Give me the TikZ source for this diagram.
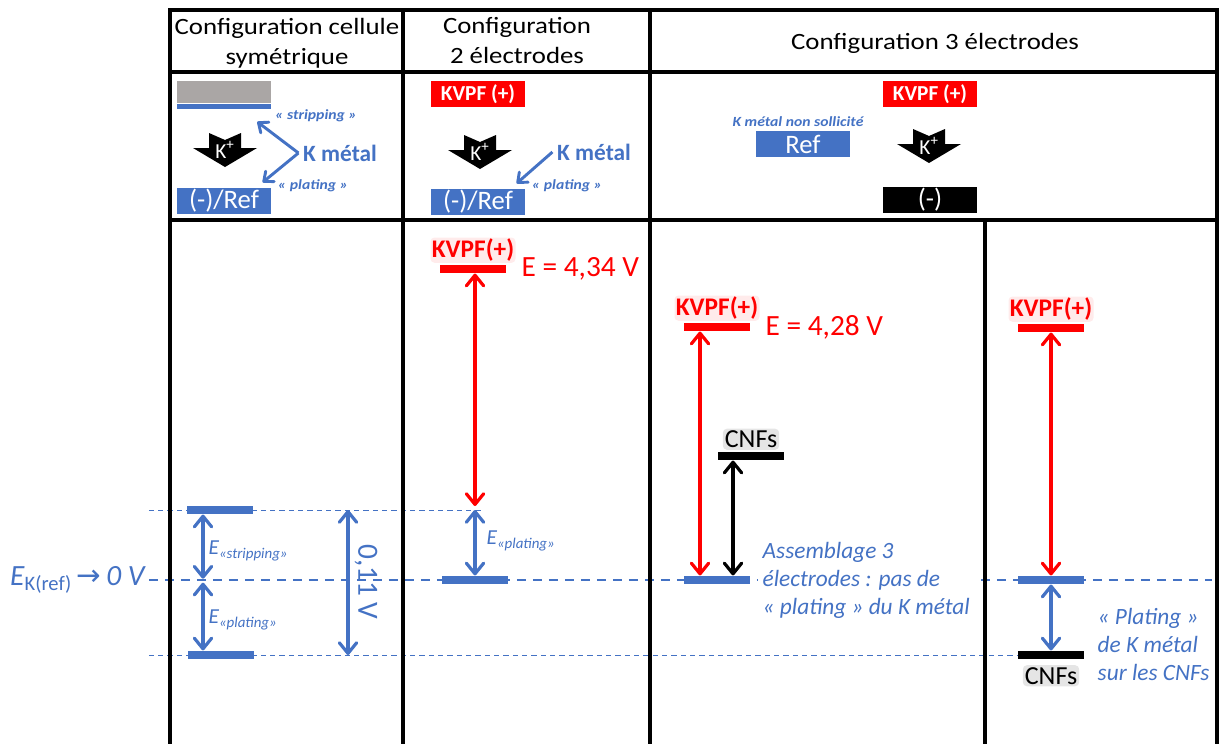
\documentclass[tikz,border=0pt]{standalone}
\usepackage{fontspec}
\setmainfont{Carlito}
\newfontfamily\symfont{DejaVu Sans}
\newfontfamily\hdfont[FakeStretch=1.15]{Carlito}
\newfontfamily\tagfont[FakeStretch=1.12]{Carlito}
\usetikzlibrary{positioning, arrows.meta, backgrounds}
\definecolor{kblue}{HTML}{4472C4}
\definecolor{kred}{HTML}{FF0000}
\definecolor{kgray}{HTML}{AAA6A5}

\begin{document}
\begin{tikzpicture}[
        x=0.75pt, y=-0.75pt,
        grid/.style={line width=2.6pt, black, line cap=rect},
        head/.style={font=\hdfont\fontsize{17.5}{22.5}\selectfont, align=center},
        elec/.style={rectangle, minimum width=71pt, minimum height=20pt, inner sep=0pt, text=white, font=\fontsize{20}{22}\selectfont},
        posbox/.style={elec, fill=kred, font=\bfseries\fontsize{16}{19}\selectfont},
        foil/.style={rectangle, fill=kgray, minimum width=70.5pt, minimum height=17pt, inner sep=0pt},
        stripe/.style={rectangle, fill=kblue, minimum width=70.5pt, minimum height=3.5pt, inner sep=0pt},
        km/.style={text=kblue, font=\bfseries\fontsize{17.5}{20}\selectfont},
        tag/.style={text=kblue, font=\tagfont\bfseries\itshape\fontsize{10.5}{12}\selectfont},
        bar/.style={rectangle, inner sep=0pt, minimum width=49.5pt, minimum height=6.5pt},
        level/.style={text=kred, font=\bfseries\fontsize{19}{21}\selectfont, inner sep=1pt, fill=kred!8, rounded corners=3pt},
        volt/.style={text=kred, font=\fontsize{22}{24}\selectfont},
        cnf/.style={text=black, font=\fontsize{19.5}{22}\selectfont, inner sep=1.5pt, fill=black!10, rounded corners=3pt},
        elab/.style={text=kblue, font=\itshape\fontsize{16}{18}\selectfont, inner sep=1pt},
        note/.style={text=kblue, font=\itshape\fontsize{17.5}{21}\selectfont, align=left},
        zero/.style={kblue, line width=1.1pt, dash pattern=on 7pt off 5pt},
        guide/.style={kblue, line width=0.6pt, dash pattern=on 4pt off 3pt},
        dbl/.style={{Straight Barb[length=8pt,width=13pt,round]}-{Straight Barb[length=8pt,width=13pt,round]}, line width=2.4pt},
        metarrow/.style={-{Straight Barb[length=6pt,width=10pt,round]}, kblue, line width=2.2pt},
        kion/.pic={
            \fill[black] (-16,-17) -- (0,-10) -- (16,-17) -- (16,-2) -- (32,-2) -- (0,17) -- (-32,-2) -- (-16,-2) -- cycle;
            \node[text=white, inner sep=0pt, font=\fontsize{16}{16}\selectfont] at (0,0) {K\textsuperscript{+}};
        }
    ]
    \useasboundingbox (0,0) rectangle (1219,743);

    % Table frame
    \draw[grid] (170,10) -- (1217,10);
    \draw[grid] (170,72) -- (1217,72);
    \draw[grid] (170,220) -- (1217,220);
    \foreach \x in {170,403,650,1217}
        \draw[grid] (\x,10) -- (\x,743);
    \draw[grid] (985,220) -- (985,743);

    % Column headers
    \node[head] (h1) at (287,43) {Configuration cellule\\symétrique};
    \node[head] (h2) at (517,41) {Configuration\\2 électrodes};
    \node[head] (h3) at (935,43) {Configuration 3 électrodes};

    % Symmetric cell
    \node[foil] (foil) at (224,92) {};
    \node[stripe, below=0pt of foil] (strip) {};
    \pic at (225,150) {kion};
    \node[elec, fill=kblue] (ne1) at (224,201) {(-)/Ref};
    \node[km] (km1) at (340,153) {K métal};
    \node[tag] (st1) at (316,116) {« stripping »};
    \node[tag] (pl1) at (313,186) {« plating »};
    \draw[metarrow] (km1.west) -- ([shift={(-14,13)}]strip.south east);
    \draw[metarrow] (km1.west) -- ([shift={(-9,-5)}]ne1.north east);

    % 2 electrodes
    \node[posbox] (kv2) at (478,94) {KVPF (+)};
    \pic at (480,152) {kion};
    \node[elec, fill=kblue] (ne2) at (478,202) {(-)/Ref};
    \node[km] (km2) at (594,152) {K métal};
    \node[tag] (pl2t) at (567,186) {« plating »};
    \draw[metarrow] (km2.west) -- ([shift={(-9,-5)}]ne2.north east);

    % 3 electrodes
    \node[tag] (ns) at (798,122) {K métal non sollicité};
    \node[elec, fill=kblue, minimum height=19.5pt] (ref3) at (803,144) {Ref};
    \node[posbox] (kv3) at (930,94) {KVPF (+)};
    \pic at (929,146) {kion};
    \node[elec, fill=black] (ne3) at (930,200) {(-)};

    % Reference potential
    \node[text=kblue, fill=white, inner sep=2pt, font=\fontsize{22}{24}\selectfont] (ek) at (78,580)
        {\textit{E}\textsubscript{K(ref)}\,{\symfont →}\,\textit{0 V}};

    % Levels, symmetric cell
    \node[bar, fill=kblue] (b1u) at (220,510) {};
    \node[bar, fill=kblue] (b1l) at (221,655) {};
    \coordinate (z1) at (203,580);
    \draw[dbl, kblue, shorten >=1pt] (b1u.south -| z1) -- (z1);
    \draw[dbl, kblue, shorten <=2pt] (z1) -- (b1l.north -| z1);
    \node[elab, anchor=west] (es1) at (207,551) {E\textsubscript{«stripping»}};
    \node[elab, anchor=west] (ep1) at (207,620) {E\textsubscript{«plating»}};
    \coordinate (g1) at (348,580);
    \draw[dbl, kblue] (b1u -| g1) -- (b1l -| g1);
    \node[text=kblue, rotate=-90, font=\fontsize{22}{24}\selectfont] (d1) at (366,582) {0,11 V};

    % Levels, 2 electrodes
    \node[bar, fill=kred] (b2k) at (473,269) {};
    \node[level, above=1pt of b2k] (kvl2) {KVPF(+)};
    \node[volt, right=8pt of b2k] (e2) {E = 4,34 V};
    \node[bar, fill=kblue] (b2z) at (475,580) {};
    \coordinate (pl2) at (475,510);
    \draw[dbl, kred, shorten >=3pt] (b2k.south -| pl2) -- (pl2);
    \draw[dbl, kblue] (pl2) -- (b2z.north);
    \node[elab, anchor=west] (ep2) at (485,541) {E\textsubscript{«plating»}};

    % Levels, 3 electrodes (no plating)
    \node[bar, fill=kred] (b3k) at (717,327) {};
    \node[level, above=1pt of b3k] (kvl3) {KVPF(+)};
    \node[volt, right=8pt of b3k] (e3) {E = 4,28 V};
    \node[bar, fill=kblue] (b3z) at (717,580) {};
    \node[bar, fill=black] (b3c) at (751,456) {};
    \node[cnf, above=1pt of b3c] (cn3) {CNFs};
    \coordinate (r3) at (700,0);
    \coordinate (c3) at (733,0);
    \draw[dbl, kred] (b3k.south -| r3) -- (b3z.north -| r3);
    \draw[dbl, black] (b3c.south -| c3) -- (b3z.north -| c3);
    \node[note, anchor=west, fill=white] (asm) at (758,580) {Assemblage 3\\électrodes : pas de\\« plating » du K métal};

    % Levels, 3 electrodes (plating on CNFs)
    \node[bar, fill=kred] (b4k) at (1051,328) {};
    \node[level, above=1pt of b4k] (kvl4) {KVPF(+)};
    \node[bar, fill=kblue] (b4z) at (1051,580) {};
    \node[bar, fill=black] (b4c) at (1051,655) {};
    \node[cnf, below=4pt of b4c] (cn4) {CNFs};
    \draw[dbl, kred] (b4k.south) -- (b4z.north);
    \draw[dbl, kblue] (b4z.south) -- (b4c.north);
    \node[note, anchor=west] (plt) at (1093,644) {« Plating »\\de K métal\\sur les CNFs};

    % Dashed guides
    \coordinate (zend) at (1212,580);
    \begin{scope}[on background layer]
        \draw[zero] (ek.east) -- (zend);
        \draw[guide] (ek.east |- b1u) -- ([xshift=6pt]pl2);
        \draw[guide] (ek.east |- b1l) -- (b4c.west);
    \end{scope}

\end{tikzpicture}
\end{document}
